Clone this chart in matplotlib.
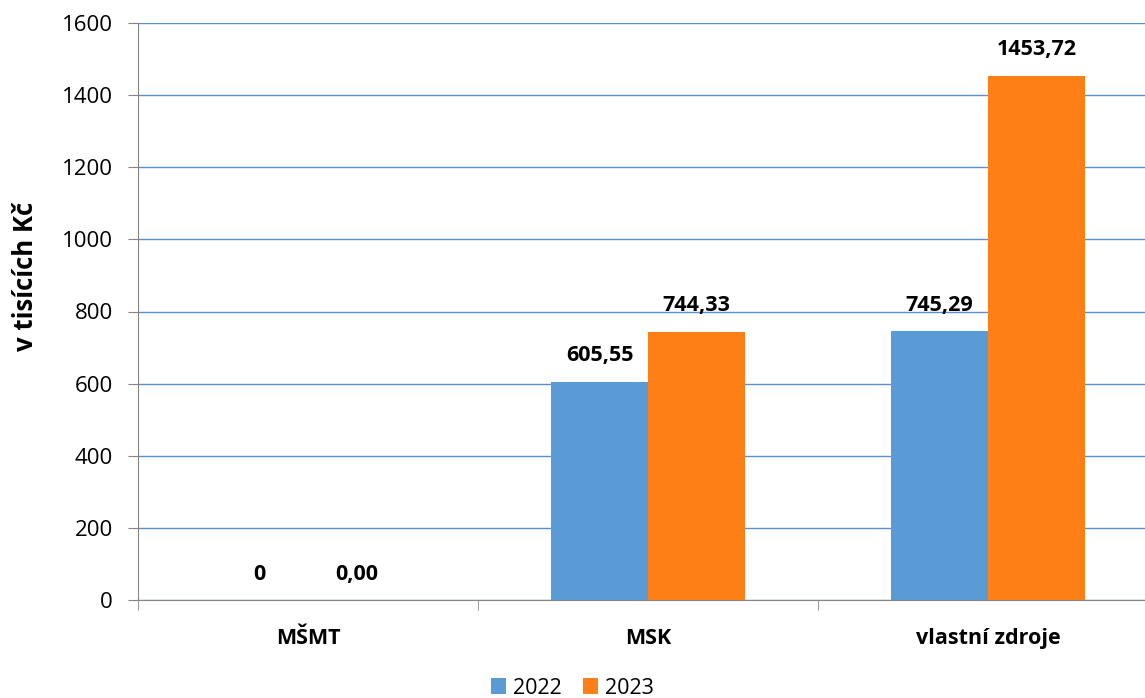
import numpy as np
import matplotlib
matplotlib.use('Agg')
import matplotlib.pyplot as plt
from matplotlib.ticker import FixedLocator

plt.rcParams['font.family'] = ['Open Sans', 'DejaVu Sans']

categories = ['MŠMT', 'MSK', 'vlastní zdroje']
years = ['2022', '2023']
values_2022 = [0, 605.55, 745.29]
values_2023 = [0, 744.33, 1453.72]
labels_2022 = ['0', '605,55', '745,29']
labels_2023 = ['0,00', '744,33', '1453,72']
yticks = [0, 200, 400, 600, 800, 1000, 1200, 1400, 1600]

c22 = '#5B9BD5'
c23 = '#FD7F16'

fig = plt.figure(figsize=(11.45, 6.98), dpi=100)
ax = fig.add_axes([138/1145, 1 - 600/698, 1020/1145, 577/698])

x = np.arange(len(categories))
w = 0.285
b1 = ax.bar(x - w/2, values_2022, w, color=c22, label=years[0], zorder=3)
b2 = ax.bar(x + w/2, values_2023, w, color=c23, label=years[1], zorder=3)

for bars, labs in ((b1, labels_2022), (b2, labels_2023)):
    for r, t in zip(bars, labs):
        ax.annotate(t, (r.get_x() + r.get_width()/2, r.get_height()),
                    xytext=(0, 11), textcoords='offset points',
                    ha='center', va='bottom', fontsize=15.5, fontweight='bold')

ax.set_xlim(-0.5, 2.5)
ax.set_ylim(0, 1600)
ax.set_yticks(yticks)
ax.set_yticklabels([str(v) for v in yticks], fontsize=16)
ax.set_xticks(x)
ax.set_xticklabels(categories, fontsize=15.5, fontweight='bold')
ax.tick_params(axis='x', length=0, pad=20)
ax.xaxis.set_minor_locator(FixedLocator([-0.5, 0.5, 1.5, 2.5]))
ax.tick_params(axis='x', which='minor', length=7, color='#868686')
ax.tick_params(axis='y', length=7, color='#868686', pad=11)

ax.grid(axis='y', color='#5A8FCF', linewidth=1, zorder=0)
ax.set_axisbelow(True)
for s in ['top', 'right']:
    ax.spines[s].set_visible(False)
for s in ['left', 'bottom']:
    ax.spines[s].set_color('#868686')

ax.set_ylabel('v tisících Kč', fontsize=18.5, fontweight='bold')
ax.yaxis.set_label_coords(-0.097, 0.56)

fig.legend(handles=[b1, b2], loc='center', bbox_to_anchor=(0.5, 1 - 688/698),
           ncol=2, frameon=False, fontsize=15.5, handlelength=0.7, handleheight=0.7,
           handletextpad=0.3, columnspacing=1.0)

fig.savefig('out.png', dpi=100)
